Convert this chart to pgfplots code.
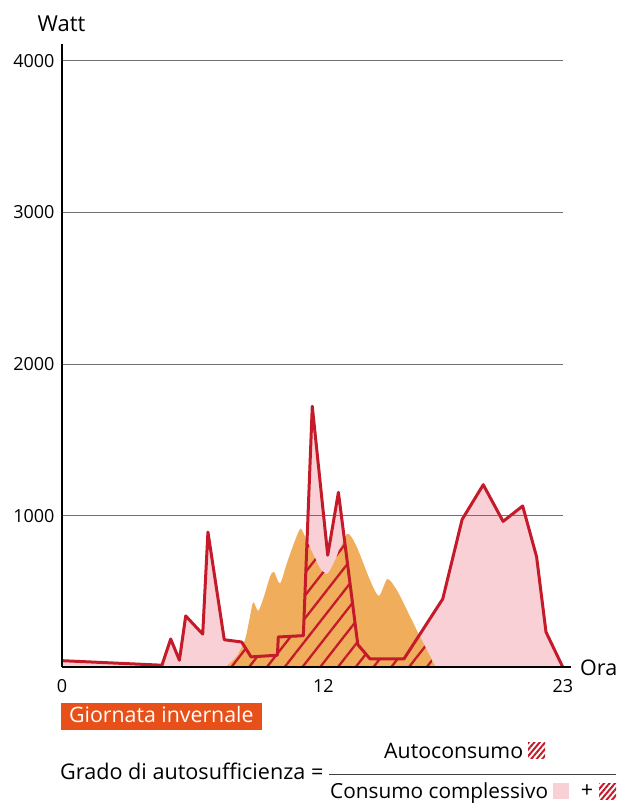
\documentclass[border=0pt]{standalone}
\usepackage{pgfplots}
\pgfplotsset{compat=1.18}
\usepackage{pgfplotstable}
\usetikzlibrary{patterns.meta}
\usepackage{fontspec}
\setmainfont{Open Sans}
\definecolor{consred}{HTML}{C41A2A}
\definecolor{pinkc}{HTML}{F8D0D6}
\definecolor{prodor}{HTML}{F0AD5C}
\definecolor{boxor}{HTML}{E8501A}
\definecolor{gridg}{HTML}{707070}

% consumption (W)
\pgfplotstableread{
t v
0 45
4.59 15
4.99 188
5.39 48
5.68 340
6.46 220
6.70 893
7.45 183
8.25 168
8.68 70
9.89 81
9.93 201
11.08 210
11.49 1722
12.2 740
12.69 1155
13.58 151
14.14 57
15.70 57
17.48 452
18.37 976
19.34 1205
20.25 963
21.15 1065
21.79 729
22.22 234
23 0
}\constab

% production (W)
\pgfplotstableread{
t v
7.48 0
8.02 74
8.40 183
8.60 314
8.78 430
9.01 373
9.27 467
9.55 598
9.73 631
10.01 554
10.32 686
10.70 838
10.96 915
11.23 838
11.85 653
12.2 620
12.61 729
13.1 882
13.53 795
14.14 576
14.55 472
14.94 583
15.37 511
15.83 380
16.28 249
16.74 118
17.17 0
}\prodtab

% self-consumption (hatched area boundary)
\pgfplotstableread{
t v
7.48 0
8.02 74
8.32 152
8.68 70
9.89 81
9.93 201
11.08 210
11.25 835
11.5 758
11.85 653
12.0 630
12.2 620
12.4 660
12.61 729
12.8 810
12.96 857
13.58 151
14.14 57
15.70 57
16.40 212
16.74 118
17.0 40
17.17 0
}\selftab

\begin{document}
\begin{tikzpicture}
\begin{axis}[
  at={(62pt,136.5pt)}, anchor=south west,
  scale only axis, width=508.6pt, height=623.5pt,
  xmin=0, xmax=23.35, ymin=0, ymax=4110,
  axis lines=left, axis line style={line width=2pt,-},
  axis on top,
  xtick={0,12,23}, ytick={1000,2000,3000,4000},
  major tick length=0pt,
  scaled y ticks=false,
  /pgf/number format/1000 sep={},
  /pgf/number format/assume math mode=true,
  tick label style={font=\fontsize{18}{20}\selectfont},
  yticklabel style={xshift=-4pt},
  xticklabel style={yshift=-8pt},
]
\addplot[draw=none, fill=pinkc] table[x=t,y=v]{\constab} \closedcycle;
\addplot[draw=none, fill=prodor, smooth, tension=0.45] table[x=t,y=v]{\prodtab} \closedcycle;
\addplot[draw=none, pattern={Lines[angle=52,distance=14pt,line width=2.3pt]}, pattern color=consred]
  table[x=t,y=v]{\selftab} \closedcycle;
\draw[gridg, line width=1.1pt] (axis cs:0,1000) -- (axis cs:23,1000);
\draw[gridg, line width=1.1pt] (axis cs:0,2000) -- (axis cs:23,2000);
\draw[gridg, line width=1.1pt] (axis cs:0,3000) -- (axis cs:23,3000);
\draw[gridg, line width=1.1pt] (axis cs:0,4000) -- (axis cs:23,4000);
\addplot[consred, line width=3pt, line join=round] table[x=t,y=v]{\constab};
\end{axis}
% labels
\node[font=\fontsize{22}{26}\selectfont, anchor=base, inner sep=0] at (61.5pt,772.3pt) {Watt};
\node[font=\fontsize{21.5}{26}\selectfont, anchor=base west, inner sep=0] at (580pt,128pt) {Ora};
\fill[boxor] (61pt,74pt) rectangle (262pt,101pt);
\node[font=\fontsize{21.3}{26}\selectfont, anchor=base west, inner sep=0, text=white] at (69pt,81pt) {Giornata invernale};
\node[font=\fontsize{21.6}{26}\selectfont, anchor=base west, inner sep=0] at (60pt,24pt) {Grado di autosufficienza =};
\draw[black!75, line width=1.5pt] (329pt,29.7pt) -- (615.5pt,29.7pt);
\node[font=\fontsize{21.3}{26}\selectfont, anchor=base west, inner sep=0] at (384pt,45.7pt) {Autoconsumo};
\path[pattern={Lines[angle=50,distance=4.2pt,line width=2pt]}, pattern color=consred] (528pt,45pt) rectangle (545pt,61pt);
\node[font=\fontsize{20.8}{26}\selectfont, anchor=base west, inner sep=0] at (330pt,5.5pt) {Consumo complessivo};
\fill[pinkc] (553pt,4.5pt) rectangle (569pt,20.5pt);
\node[font=\fontsize{21.5}{26}\selectfont, anchor=base, inner sep=0] at (587pt,6.5pt) {+};
\path[pattern={Lines[angle=50,distance=4.2pt,line width=2pt]}, pattern color=consred] (599pt,4.5pt) rectangle (616pt,20.5pt);
\pgfresetboundingbox
\path[use as bounding box] (0pt,0pt) rectangle (618pt,804pt);
\end{tikzpicture}
\end{document}
